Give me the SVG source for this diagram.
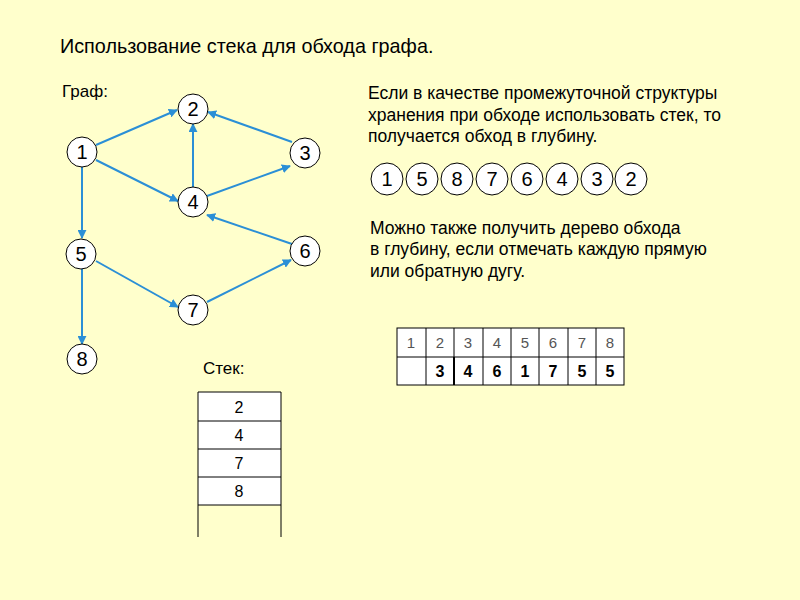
<svg xmlns="http://www.w3.org/2000/svg" width="800" height="600" viewBox="0 0 800 600">
<defs>
<marker id="ah" viewBox="0 0 10 10" refX="9" refY="5" markerWidth="9" markerHeight="9" markerUnits="userSpaceOnUse" orient="auto">
<path d="M0,0 L10,5 L0,10 z" fill="#2b8fd6"/>
</marker>
</defs>
<style>
text{font-family:"Liberation Sans",Arial,sans-serif;fill:#000}
.t{font-size:19.8px}
.p{font-size:17.5px}
.s{font-size:17px}
.n{font-size:20px;text-anchor:middle}
.nc{fill:#fff;stroke:#000;stroke-width:1}
.e{stroke:#2b8fd6;stroke-width:2;fill:none;marker-end:url(#ah)}
.c{fill:#fff;stroke:#000;stroke-width:1}
.hd{font-size:15px;fill:#555;text-anchor:middle}
.bd{font-size:16px;font-weight:bold;text-anchor:middle}
.st{font-size:16px;text-anchor:middle}
</style>
<rect width="800" height="600" fill="#ffffcc"/>
<text class="t" x="60" y="53">Использование стека для обхода графа.</text>
<text class="s" x="62" y="97">Граф:</text>
<g id="edges">
<line class="e" x1="96" y1="145" x2="177" y2="110"/>
<line class="e" x1="292" y1="142" x2="208" y2="112"/>
<line class="e" x1="193" y1="187" x2="193" y2="124"/>
<line class="e" x1="96" y1="160" x2="178" y2="201"/>
<line class="e" x1="207" y1="196" x2="290" y2="166"/>
<line class="e" x1="292" y1="244" x2="207" y2="215"/>
<line class="e" x1="82" y1="167" x2="82" y2="238"/>
<line class="e" x1="96" y1="261" x2="178" y2="307"/>
<line class="e" x1="207" y1="302" x2="291" y2="260"/>
<line class="e" x1="82" y1="269" x2="82" y2="344"/>
</g>
<g id="n1"><circle class="nc" cx="82" cy="152" r="15"/><text class="n" x="82" y="159">1</text></g>
<g id="n2"><circle class="nc" cx="193" cy="109" r="15"/><text class="n" x="193" y="116">2</text></g>
<g id="n3"><circle class="nc" cx="305" cy="153" r="15"/><text class="n" x="305" y="160">3</text></g>
<g id="n4"><circle class="nc" cx="193" cy="202" r="15"/><text class="n" x="193" y="209">4</text></g>
<g id="n5"><circle class="nc" cx="81" cy="254" r="15"/><text class="n" x="81" y="261">5</text></g>
<g id="n6"><circle class="nc" cx="305" cy="251" r="15"/><text class="n" x="305" y="258">6</text></g>
<g id="n7"><circle class="nc" cx="193" cy="310" r="15"/><text class="n" x="193" y="317">7</text></g>
<g id="n8"><circle class="nc" cx="82" cy="359" r="15"/><text class="n" x="82" y="366">8</text></g>
<text class="p" x="368" y="99">Если в качестве промежуточной структуры</text>
<text class="p" x="368" y="121">хранения при обходе использовать стек, то</text>
<text class="p" x="368" y="142">получается обход в глубину.</text>
<g id="order">
<circle class="c" cx="387" cy="179" r="16"/><text class="n" x="387" y="186">1</text>
<circle class="c" cx="422" cy="179" r="16"/><text class="n" x="422" y="186">5</text>
<circle class="c" cx="457" cy="179" r="16"/><text class="n" x="457" y="186">8</text>
<circle class="c" cx="492" cy="179" r="16"/><text class="n" x="492" y="186">7</text>
<circle class="c" cx="527" cy="179" r="16"/><text class="n" x="527" y="186">6</text>
<circle class="c" cx="562" cy="179" r="16"/><text class="n" x="562" y="186">4</text>
<circle class="c" cx="597" cy="179" r="16"/><text class="n" x="597" y="186">3</text>
<circle class="c" cx="631" cy="179" r="16"/><text class="n" x="631" y="186">2</text>
</g>
<text class="p" x="370" y="234">Можно также получить дерево обхода</text>
<text class="p" x="370" y="255">в глубину, если отмечать каждую прямую</text>
<text class="p" x="370" y="277">или обратную дугу.</text>
<g id="table">
<rect x="397" y="328" width="227" height="57" fill="#fff" stroke="#000" stroke-width="1"/>
<line x1="397" y1="357" x2="624" y2="357" stroke="#000"/>
<g stroke="#000" stroke-width="1">
<line x1="426" y1="328" x2="426" y2="385"/>
<line x1="454" y1="328" x2="454" y2="385"/>
<line x1="483" y1="328" x2="483" y2="385"/>
<line x1="511" y1="328" x2="511" y2="385"/>
<line x1="539" y1="328" x2="539" y2="385"/>
<line x1="568" y1="328" x2="568" y2="385"/>
<line x1="596" y1="328" x2="596" y2="385"/>
</g>
<line x1="454" y1="357" x2="454" y2="385" stroke="#000" stroke-width="2"/>
<text class="hd" x="411" y="348">1</text>
<text class="hd" x="440" y="348">2</text>
<text class="hd" x="468" y="348">3</text>
<text class="hd" x="497" y="348">4</text>
<text class="hd" x="525" y="348">5</text>
<text class="hd" x="553" y="348">6</text>
<text class="hd" x="582" y="348">7</text>
<text class="hd" x="610" y="348">8</text>
<text class="bd" x="440" y="377">3</text>
<text class="bd" x="468" y="377">4</text>
<text class="bd" x="497" y="377">6</text>
<text class="bd" x="525" y="377">1</text>
<text class="bd" x="553" y="377">7</text>
<text class="bd" x="582" y="377">5</text>
<text class="bd" x="610" y="377">5</text>
</g>
<text class="s" x="203" y="374">Стек:</text>
<g id="stack">
<rect x="198" y="392" width="83" height="113" fill="#fff"/>
<g stroke="#000" stroke-width="1" fill="none">
<line x1="198" y1="392" x2="198" y2="537"/>
<line x1="281" y1="392" x2="281" y2="537"/>
<line x1="198" y1="392" x2="281" y2="392"/>
<line x1="198" y1="421" x2="281" y2="421"/>
<line x1="198" y1="449" x2="281" y2="449"/>
<line x1="198" y1="477" x2="281" y2="477"/>
<line x1="198" y1="505" x2="281" y2="505"/>
</g>
<text class="st" x="239" y="413">2</text>
<text class="st" x="239" y="441">4</text>
<text class="st" x="239" y="469">7</text>
<text class="st" x="239" y="497">8</text>
</g>
</svg>
